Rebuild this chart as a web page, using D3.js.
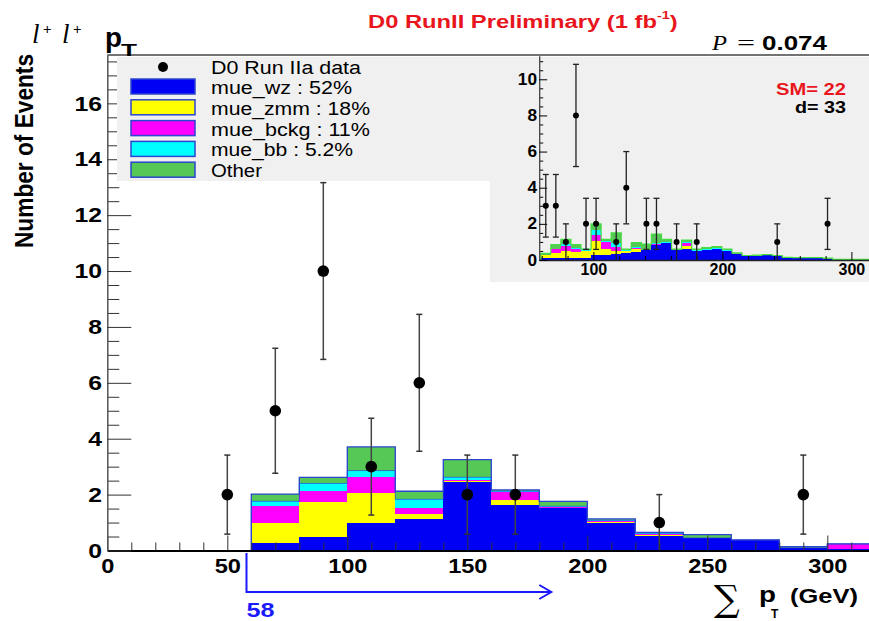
<!DOCTYPE html>
<html>
<head>
<meta charset="utf-8">
<script src="https://cdn.jsdelivr.net/npm/d3@7"></script>
<style>
  body { margin: 0; background: #fff; }
  svg { display: block; font-family: "Liberation Sans", Arial, Helvetica, sans-serif; }
</style>
</head>
<body>
<svg id="chart" width="869" height="621"></svg>
<script>
// ---------------- data ----------------
// Main histogram: 20 GeV bins from 0 to 320 GeV (lower edges)
const binLow = [0, 20, 40, 60, 80, 100, 120, 140, 160, 180, 200, 220, 240, 260, 280, 300];
const binWidth = 20;
// Expected events per bin for each sample (stacked bottom to top)
const wz    = [0, 0, 0.03, 0.26, 0.50, 0.98, 1.11, 2.46, 1.63, 1.52, 0.99, 0.54, 0.45, 0.38, 0.10, 0.06];
const zmm   = [0, 0, 0, 0.72, 1.23, 1.07, 0.20, 0.03, 0.19, 0.02, 0.02, 0.02, 0, 0, 0, 0];
const bckg  = [0.03, 0.03, 0, 0.63, 0.39, 0.59, 0.21, 0.03, 0.26, 0.02, 0.03, 0.03, 0, 0, 0, 0.18];
const bb    = [0, 0, 0, 0.15, 0.28, 0.22, 0.31, 0.10, 0.04, 0.02, 0.04, 0.03, 0, 0, 0, 0];
const other = [0, 0, 0, 0.26, 0.22, 0.85, 0.29, 0.63, 0.05, 0.18, 0.05, 0.03, 0.12, 0, 0.04, 0];

// Observed data (bin centres and counts)
const dataCenters = [50, 70, 90, 110, 130, 150, 170, 230, 290];
const dataCounts  = [2, 5, 10, 3, 6, 2, 2, 1, 2];

// Legend
const sampleKeys   = ["wz", "zmm", "bckg", "bb", "other"];
const sampleLabels = ["mue_wz : 52%", "mue_zmm : 18%", "mue_bckg : 11%", "mue_bb : 5.2%", "Other"];
const dataLabel    = "D0 Run IIa data";

// Axis ticks
const xTicks = [0, 50, 100, 150, 200, 250, 300];
const yTicks = [0, 2, 4, 6, 8, 10, 12, 14, 16];

// Inset: finer binning starting at the 58 GeV cut
const insetStart = 59.2, insetWidth = 7.8;
const insetWz    = [0.10, 0.10, 0.10, 0.10, 0.10, 0.30, 0.30, 0.35, 0.40, 0.45, 0.55, 0.83, 0.96, 0.55, 0.60, 0.50, 0.60, 0.65, 0.50, 0.35, 0.20, 0.22, 0.25, 0.20, 0.10, 0.10, 0.10, 0.10, 0.08, 0, 0, 0, 0, 0];
const insetZmm   = [0.18, 0.27, 0.40, 0.35, 0.40, 0.77, 0.30, 0.15, 0.10, 0.15, 0, 0.02, 0, 0, 0.20, 0, 0, 0, 0, 0, 0, 0, 0, 0, 0, 0, 0, 0, 0, 0, 0, 0, 0, 0];
const insetBckg  = [0, 0.22, 0.30, 0.15, 0, 0.33, 0.40, 0.20, 0, 0.05, 0, 0.02, 0, 0, 0.15, 0, 0, 0, 0, 0, 0, 0, 0, 0, 0, 0, 0, 0, 0, 0, 0, 0, 0, 0];
const insetBb    = [0.02, 0.04, 0.06, 0.05, 0.10, 0.26, 0.05, 0.25, 0.03, 0.05, 0.03, 0.05, 0.03, 0.02, 0.05, 0.03, 0.02, 0.02, 0.03, 0, 0, 0, 0, 0, 0, 0, 0, 0, 0, 0, 0, 0, 0, 0];
const insetOther = [0.07, 0.22, 0.28, 0.20, 0, 0.34, 0.09, 0.55, 0.07, 0.26, 0.30, 0.52, 0.15, 0.03, 0.10, 0.07, 0.06, 0.07, 0.07, 0.05, 0.05, 0.05, 0.05, 0.05, 0.05, 0.03, 0.03, 0.03, 0.03, 0.03, 0.03, 0.03, 0.03, 0.03];
const insetCounts = [3, 3, 1, 8, 2, 2, 0, 1, 4, 0, 2, 2, 0, 1, 0, 1, 0, 0, 0, 0, 0, 0, 0, 1, 0, 0, 0, 0, 2, 0, 0, 0, 0, 0];
const insetXTicks = [100, 200, 300];
const insetYTicks = [0, 2, 4, 6, 8, 10];
const smTotal = 22, dataTotal = 33;
const cutValue = 58, pValue = "0.074";

// ---------------- styling ----------------
const colorOf = { wz: "#0000f4", zmm: "#ffff00", bckg: "#ff00ff", bb: "#00ffff", other: "#55c855" };
const outlineColor = "#2b45d0";
const SX = 1.18; // horizontal text stretch

const svg = d3.select("#chart");

function label(parent, x, y, str, o = {}) {
  const t = parent.append("text")
    .attr("x", x).attr("y", y)
    .attr("font-size", o.size || 18)
    .attr("font-weight", o.weight || "bold")
    .attr("font-family", o.family || "Liberation Sans, Arial, sans-serif")
    .attr("font-style", o.style || "normal")
    .attr("fill", o.fill || "#000")
    .attr("text-anchor", o.anchor || "start")
    .text(str);
  if (o.width) t.attr("textLength", o.width).attr("lengthAdjust", "spacingAndGlyphs");
  return t;
}

// ---------------- main plot ----------------
const x = d3.scaleLinear().domain([0, 320]).range([107.3, 875.3]);
const y = d3.scaleLinear().domain([0, 17.73]).range([550.5, 55]);

const rows = binLow.map((lo, i) => ({ lo, hi: lo + binWidth, wz: wz[i], zmm: zmm[i], bckg: bckg[i], bb: bb[i], other: other[i] }));
const layers = d3.stack().keys(sampleKeys)(rows);

const plot = svg.append("g");
plot.selectAll("g.layer").data(layers).join("g")
  .attr("class", "layer")
  .attr("fill", d => colorOf[d.key])
  .attr("shape-rendering", "crispEdges")
  .selectAll("rect")
  .data(d => d.filter(s => s[1] - s[0] > 0))
  .join("rect")
  .attr("x", s => x(s.data.lo))
  .attr("width", s => x(s.data.hi) - x(s.data.lo))
  .attr("y", s => y(s[1]))
  .attr("height", s => Math.max(0.8, y(s[0]) - y(s[1])));

// histogram outlines (cumulative tops) for the region above the cut
const stepLine = (xs, ys) => d3.line().x(p => xs(p[0])).y(p => ys(p[1])).curve(d3.curveStepAfter);
function outlinePoints(rowsIn, cum, lo0, hiEnd) {
  const pts = [[lo0, 0]];
  rowsIn.forEach((r, i) => { if (r.lo >= lo0) pts.push([r.lo, cum[i]]); });
  pts.push([hiEnd, pts[pts.length - 1][1]]);
  pts.push([hiEnd, 0]);
  return pts;
}
const cumBb = layers[3].map(s => s[1]);
const cumAll = layers[4].map(s => s[1]);
plot.append("path").attr("d", stepLine(x, y)(outlinePoints(rows, cumBb, 60, 320)))
  .attr("fill", "none").attr("stroke", outlineColor).attr("stroke-width", 1).attr("opacity", 0.7);
plot.append("path").attr("d", stepLine(x, y)(outlinePoints(rows, cumAll, 60, 320)))
  .attr("fill", "none").attr("stroke", outlineColor).attr("stroke-width", 1.3);

// axes
const xMinor = d3.range(0, 321, 10).filter(v => v % 50 !== 0);
const yMinor = d3.range(0, 17.6, 0.5).filter(v => v % 2 !== 0);

svg.append("g").attr("transform", `translate(0,${y(0)})`)
  .call(d3.axisBottom(x).tickValues(xMinor).tickSizeInner(-8).tickSizeOuter(0).tickFormat(""))
  .call(g => g.select(".domain").remove())
  .call(g => g.selectAll("line").attr("stroke", "#333"));
svg.append("g").attr("transform", `translate(${x(0)},0)`)
  .call(d3.axisLeft(y).tickValues(yMinor).tickSizeInner(-12).tickSizeOuter(0).tickFormat(""))
  .call(g => g.select(".domain").remove())
  .call(g => g.selectAll("line").attr("stroke", "#333"));

const xAxis = svg.append("g").attr("transform", `translate(0,${y(0)})`)
  .call(d3.axisBottom(x).tickValues(xTicks).tickSizeInner(-15).tickSizeOuter(0).tickPadding(8.5));
xAxis.select(".domain").attr("stroke", "#000").attr("stroke-width", 2);
xAxis.selectAll("line").attr("stroke", "#333");
xAxis.selectAll("text").attr("font-size", 20).attr("font-weight", "bold")
  .attr("font-family", "Liberation Sans, Arial, sans-serif").attr("fill", "#000")
  .attr("transform", `scale(${SX},1)`);

const yAxis = svg.append("g").attr("transform", `translate(${x(0)},0)`)
  .call(d3.axisLeft(y).tickValues(yTicks).tickSizeInner(-24).tickSizeOuter(0).tickPadding(4.5));
yAxis.select(".domain").attr("stroke", "#555").attr("stroke-width", 1.5);
yAxis.selectAll("line").attr("stroke", "#333");
yAxis.selectAll("text").attr("font-size", 21).attr("font-weight", "bold")
  .attr("font-family", "Liberation Sans, Arial, sans-serif").attr("fill", "#000")
  .attr("transform", `scale(${SX},1)`);

// frame top
svg.append("line").attr("x1", x(0)).attr("x2", 869).attr("y1", y.range()[1]).attr("y2", y.range()[1])
  .attr("stroke", "#444").attr("stroke-width", 1.5);

// data points with sqrt(N) error bars
const pts = dataCenters.map((c, i) => ({ c, n: dataCounts[i], e: Math.sqrt(dataCounts[i]) }));
const dg = plot.append("g");
dg.selectAll("line.stem").data(pts).join("line")
  .attr("x1", d => x(d.c)).attr("x2", d => x(d.c))
  .attr("y1", d => y(d.n + d.e)).attr("y2", d => y(Math.max(0, d.n - d.e)))
  .attr("stroke", "#444").attr("stroke-width", 1.5);
dg.selectAll("line.capT").data(pts).join("line")
  .attr("x1", d => x(d.c) - 3).attr("x2", d => x(d.c) + 3)
  .attr("y1", d => y(d.n + d.e)).attr("y2", d => y(d.n + d.e))
  .attr("stroke", "#333").attr("stroke-width", 1.5);
dg.selectAll("line.capB").data(pts.filter(d => d.n - d.e > 0)).join("line")
  .attr("x1", d => x(d.c) - 3).attr("x2", d => x(d.c) + 3)
  .attr("y1", d => y(d.n - d.e)).attr("y2", d => y(d.n - d.e))
  .attr("stroke", "#333").attr("stroke-width", 1.5);
dg.selectAll("circle").data(pts).join("circle")
  .attr("cx", d => x(d.c)).attr("cy", d => y(d.n)).attr("r", 5.8).attr("fill", "#000");

// ---------------- legend ----------------
const leg = svg.append("g");
leg.append("rect").attr("x", 117).attr("y", 57).attr("width", 373).attr("height", 124).attr("fill", "#f0f0f0");
leg.append("circle").attr("cx", 163).attr("cy", 67).attr("r", 5).attr("fill", "#000");
label(leg, 211, 74, dataLabel, { size: 18, weight: "normal", width: 150 });
const legWidths = [141, 159, 159, 142, 51];
sampleKeys.forEach((k, i) => {
  const base = 94 + i * 20.8;
  leg.append("rect").attr("x", 131).attr("y", base - 15).attr("width", 64).attr("height", 15)
    .attr("fill", colorOf[k]).attr("stroke", outlineColor).attr("stroke-width", 1.5);
  label(leg, 211, base, sampleLabels[i], { size: 18, weight: "normal", width: legWidths[i] });
});

// ---------------- inset ----------------
const ins = svg.append("g");
ins.append("rect").attr("x", 490).attr("y", 57).attr("width", 400).attr("height", 225).attr("fill", "#f0f0f0");

const xi = d3.scaleLinear().domain([58, 320]).range([539.2, 877.2]);
const yi = d3.scaleLinear().domain([0, 11.3]).range([260, 55.8]);

const insetRows = insetWz.map((v, i) => ({
  lo: insetStart + i * insetWidth, hi: insetStart + (i + 1) * insetWidth,
  wz: v, zmm: insetZmm[i], bckg: insetBckg[i], bb: insetBb[i], other: insetOther[i]
}));
const insetLayers = d3.stack().keys(sampleKeys)(insetRows);
ins.selectAll("g.ilayer").data(insetLayers).join("g")
  .attr("class", "ilayer")
  .attr("fill", d => colorOf[d.key])
  .attr("shape-rendering", "crispEdges")
  .selectAll("rect")
  .data(d => d.filter(s => s[1] - s[0] > 0))
  .join("rect")
  .attr("x", s => xi(s.data.lo))
  .attr("width", s => xi(s.data.hi) - xi(s.data.lo))
  .attr("y", s => yi(s[1]))
  .attr("height", s => Math.max(0.8, yi(s[0]) - yi(s[1])));
const insetTotal = insetLayers[4].map(s => s[1]);
ins.append("path")
  .attr("d", stepLine(xi, yi)(outlinePoints(insetRows, insetTotal, insetStart, insetStart + insetRows.length * insetWidth)))
  .attr("fill", "none").attr("stroke", "#44dd44").attr("stroke-width", 1.2);

// inset axes
ins.append("g").attr("transform", `translate(0,${yi(0)})`)
  .call(d3.axisBottom(xi).tickValues(d3.range(60, 321, 20).filter(v => v % 100 !== 0)).tickSizeInner(-4).tickSizeOuter(0).tickFormat(""))
  .call(g => g.select(".domain").remove());
ins.append("g").attr("transform", `translate(${xi(58)},0)`)
  .call(d3.axisLeft(yi).tickValues(d3.range(0, 11.1, 0.5).filter(v => v % 2 !== 0)).tickSizeInner(-4).tickSizeOuter(0).tickFormat(""))
  .call(g => g.select(".domain").remove());
const ixAxis = ins.append("g").attr("transform", `translate(0,${yi(0)})`)
  .call(d3.axisBottom(xi).tickValues(insetXTicks).tickSizeInner(-8).tickSizeOuter(0).tickPadding(4));
ixAxis.select(".domain").attr("stroke", "#222").attr("stroke-width", 1.3);
ixAxis.selectAll("text").attr("font-size", 16).attr("font-weight", "bold")
  .attr("font-family", "Liberation Sans, Arial, sans-serif").attr("fill", "#000");
const iyAxis = ins.append("g").attr("transform", `translate(${xi(58)},0)`)
  .call(d3.axisLeft(yi).tickValues(insetYTicks).tickSizeInner(-8).tickSizeOuter(0).tickPadding(2));
iyAxis.select(".domain").attr("stroke", "#444").attr("stroke-width", 1.3);
iyAxis.selectAll("text").attr("font-size", 16).attr("font-weight", "bold")
  .attr("font-family", "Liberation Sans, Arial, sans-serif").attr("fill", "#000")
  .attr("transform", "scale(1.08,1)");

// inset data points
const ipts = insetCounts.map((n, i) => ({ c: insetStart + (i + 0.5) * insetWidth, n, e: Math.sqrt(n) })).filter(d => d.n > 0);
ins.selectAll("line.istem").data(ipts).join("line")
  .attr("x1", d => xi(d.c)).attr("x2", d => xi(d.c))
  .attr("y1", d => yi(d.n + d.e)).attr("y2", d => yi(Math.max(0, d.n - d.e)))
  .attr("stroke", "#222").attr("stroke-width", 1.3);
ins.selectAll("line.icapT").data(ipts).join("line")
  .attr("x1", d => xi(d.c) - 3).attr("x2", d => xi(d.c) + 3)
  .attr("y1", d => yi(d.n + d.e)).attr("y2", d => yi(d.n + d.e))
  .attr("stroke", "#222").attr("stroke-width", 1.3);
ins.selectAll("line.icapB").data(ipts.filter(d => d.n - d.e > 0)).join("line")
  .attr("x1", d => xi(d.c) - 3).attr("x2", d => xi(d.c) + 3)
  .attr("y1", d => yi(d.n - d.e)).attr("y2", d => yi(d.n - d.e))
  .attr("stroke", "#222").attr("stroke-width", 1.3);
ins.selectAll("circle").data(ipts).join("circle")
  .attr("cx", d => xi(d.c)).attr("cy", d => yi(d.n)).attr("r", 3).attr("fill", "#000");

label(ins, 846, 95, `SM= ${smTotal}`, { size: 17, fill: "#e8161c", anchor: "end", width: 70 });
label(ins, 846, 113, `d= ${dataTotal}`, { size: 17, anchor: "end", width: 51 });

// ---------------- titles ----------------
// Title with superscript drawn as one text element
const title = svg.append("text")
  .attr("x", 368).attr("y", 28)
  .attr("font-size", 18).attr("font-weight", "bold")
  .attr("font-family", "Liberation Sans, Arial, sans-serif")
  .attr("fill", "#e8161c")
  .attr("transform", "translate(368,0) scale(1.32,1) translate(-368,0)");
title.append("tspan").text("D0 RunII Preliminary (1 fb");
title.append("tspan").attr("font-size", 11).attr("dy", -9).text("-1");
title.append("tspan").attr("dy", 9).text(")");

label(svg, 712, 50, "P", { size: 22, weight: "normal", style: "italic", family: "Liberation Serif, serif", width: 15 });
label(svg, 737, 50, "=", { size: 22, weight: "normal", family: "Liberation Serif, serif", width: 18 });
label(svg, 762, 50, pValue, { size: 21, width: 65 });

// top-left variable label
label(svg, 32, 43, "l", { size: 27, weight: "normal", style: "italic", family: "Liberation Serif, serif" });
label(svg, 43, 34, "+", { size: 15, weight: "bold", family: "Liberation Serif, serif" });
label(svg, 62, 43, "l", { size: 27, weight: "normal", style: "italic", family: "Liberation Serif, serif" });
label(svg, 73, 34, "+", { size: 15, weight: "bold", family: "Liberation Serif, serif" });
label(svg, 105, 47, "p", { size: 28, width: 17 });
label(svg, 121, 56, "T", { size: 17, width: 16 });

// y-axis title
svg.append("text")
  .attr("transform", "translate(33,151) rotate(-90)")
  .attr("text-anchor", "middle")
  .attr("font-size", 25).attr("font-weight", "bold")
  .attr("font-family", "Liberation Sans, Arial, sans-serif")
  .attr("textLength", 194).attr("lengthAdjust", "spacingAndGlyphs")
  .text("Number of Events");

// x-axis title
label(svg, 714, 611, "\u2211", { size: 36, weight: "normal", family: "DejaVu Serif, serif" });
label(svg, 759, 602, "p", { size: 22, width: 17 });
label(svg, 771, 618, "T", { size: 12 });
label(svg, 790, 603, "(GeV)", { size: 20, width: 68 });

// cut arrow at 58 GeV
const cut = svg.append("g").attr("stroke", "#1a1aff").attr("stroke-width", 2).attr("fill", "none");
const arrowY = 592, arrowEnd = x(185);
cut.append("path").attr("d", `M${x(cutValue)},553 V${arrowY} H${arrowEnd}`);
cut.append("path").attr("d", `M${arrowEnd - 12},${arrowY - 7} L${arrowEnd},${arrowY} L${arrowEnd - 12},${arrowY + 7}`);
label(svg, x(cutValue), 617, String(cutValue), { size: 20, fill: "#1a1aff", width: 28 });
</script>
</body>
</html>
